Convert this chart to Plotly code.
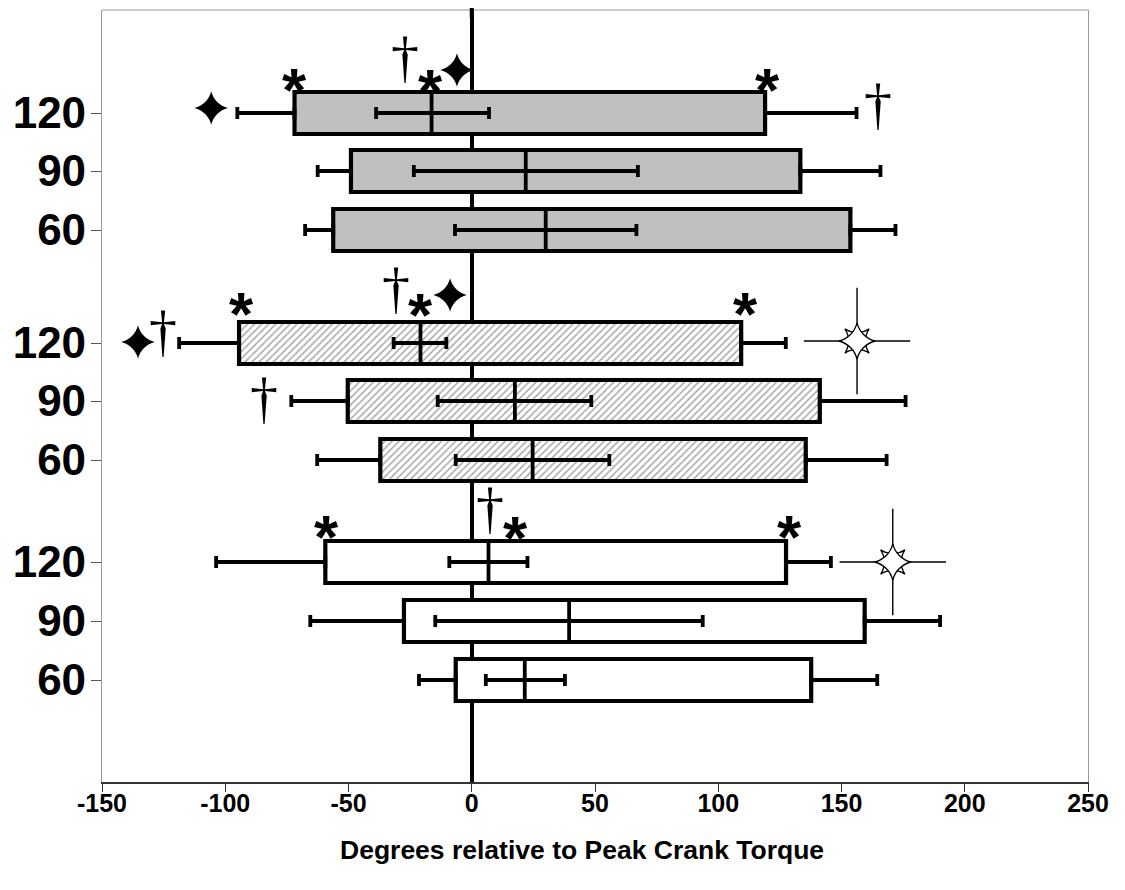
import plotly.graph_objects as go

# ---------------- data (degrees relative to peak crank torque) ----------------
# rows from bottom to top: white group, hatched group, gray group; each 60, 90, 120
ROW_LABELS = ["60", "90", "120", "60", "90", "120", "60", "90", "120"]
GROUP = ["white", "white", "white", "hatch", "hatch", "hatch", "gray", "gray", "gray"]

WHISK_LO = [-21.4, -65.5, -103.7, -62.7, -73.2, -118.7, -67.6, -62.5, -95.1]
BOX_LO = [-6.5, -27.5, -59.4, -37.1, -50.3, -94.4, -56.2, -49.0, -71.9]
MEDIAN = [21.5, 39.5, 6.8, 24.7, 17.5, -20.8, 30.0, 21.9, -16.3]
MED_LO = [5.7, -14.8, -9.1, -6.5, -13.8, -31.7, -6.8, -23.5, -38.8]
MED_HI = [37.8, 93.7, 22.6, 55.8, 48.5, -10.3, 66.8, 67.4, 7.0]
BOX_HI = [137.7, 159.4, 127.5, 135.5, 141.2, 109.3, 153.6, 133.3, 119.0]
WHISK_HI = [164.5, 190.0, 145.7, 168.3, 176.0, 127.4, 171.9, 165.8, 156.1]

X_TICKS = [-150, -100, -50, 0, 50, 100, 150, 200, 250]
X_TITLE = "Degrees relative to Peak Crank Torque"

# significance symbols (x in degrees, y in vertical axis units)
ASTER_X = [-72.0, -16.9, 119.8, -93.6, -20.6, 110.9, -59.1, 17.8, 129.1]
ASTER_Y = [702, 701, 702, 478, 477, 478, 255, 254, 255]
DAGGER_X = [-27.1, 164.8, -125.2, -30.7, -84.1, 7.2]
DAGGER_Y = [721, 674, 447, 490, 380, 270]
STAR_X = [-105.7, -6.0, -135.4, -8.8]
STAR_Y = [674, 712, 440, 487]
SPARKLE_X = [156.3, 170.8]
SPARKLE_Y = [441, 220]

# ---------------- layout constants ----------------
ROW_POS = [102, 161, 220, 322, 381, 439, 552, 611, 669]  # vertical axis units
BOX_H = 42
FILL = {"white": "#FFFFFF", "hatch": "#FFFFFF", "gray": "#C0C0C0"}

fig = go.Figure()

for g in ["white", "hatch", "gray"]:
    idx = [i for i, gg in enumerate(GROUP) if gg == g]
    marker = dict(color=FILL[g], line=dict(color="black", width=4.2))
    if g == "hatch":
        marker["pattern"] = dict(shape="/", fgcolor="#505050", bgcolor="white",
                                 size=5, solidity=0.3, fillmode="overlay")
    fig.add_trace(go.Bar(
        orientation="h",
        y=[ROW_POS[i] for i in idx],
        base=[BOX_LO[i] for i in idx],
        x=[BOX_HI[i] - BOX_LO[i] for i in idx],
        width=BOX_H,
        marker=marker,
        showlegend=False,
        hoverinfo="skip",
    ))

invis = dict(size=1, color="rgba(0,0,0,0)")
# left whiskers
fig.add_trace(go.Scatter(
    x=BOX_LO, y=ROW_POS, mode="markers", marker=invis, showlegend=False,
    error_x=dict(type="data", symmetric=False,
                 array=[0] * len(BOX_LO),
                 arrayminus=[b - w for b, w in zip(BOX_LO, WHISK_LO)],
                 color="black", thickness=3.8, width=6),
))
# right whiskers
fig.add_trace(go.Scatter(
    x=BOX_HI, y=ROW_POS, mode="markers", marker=invis, showlegend=False,
    error_x=dict(type="data", symmetric=False,
                 array=[w - b for b, w in zip(BOX_HI, WHISK_HI)],
                 arrayminus=[0] * len(BOX_HI),
                 color="black", thickness=3.8, width=6),
))
# median line with its error bar
fig.add_trace(go.Scatter(
    x=MEDIAN, y=ROW_POS, mode="markers", marker=invis, showlegend=False,
    error_x=dict(type="data", symmetric=False,
                 array=[h - m for m, h in zip(MEDIAN, MED_HI)],
                 arrayminus=[m - l for m, l in zip(MEDIAN, MED_LO)],
                 color="black", thickness=3.8, width=6),
    error_y=dict(type="constant", value=BOX_H / 2, color="black",
                 thickness=3.8, width=0),
))

# four-pointed black stars
fig.add_trace(go.Scatter(
    x=STAR_X, y=STAR_Y, mode="markers", showlegend=False,
    marker=dict(symbol="star-diamond", size=24, color="black",
                line=dict(width=0)),
))
# sparkles
fig.add_trace(go.Scatter(
    x=SPARKLE_X, y=SPARKLE_Y, mode="markers", showlegend=False,
    marker=dict(symbol="cross-thin", size=76, color="black",
                line=dict(width=1.4, color="black")),
))
fig.add_trace(go.Scatter(
    x=SPARKLE_X, y=SPARKLE_Y, mode="markers", showlegend=False,
    marker=dict(symbol="star-square", size=22, color="white",
                line=dict(width=1.3, color="black")),
))
fig.add_trace(go.Scatter(
    x=SPARKLE_X, y=SPARKLE_Y, mode="markers", showlegend=False,
    marker=dict(symbol="star-diamond", size=26, color="white",
                line=dict(width=1.3, color="black")),
))

annotations = []
for x, y in zip(ASTER_X, ASTER_Y):
    annotations.append(dict(x=x, y=y, xref="x", yref="y", text="<b>*</b>", showarrow=False,
                            font=dict(family="Liberation Sans", size=62, color="black"),
                            yshift=-9, borderpad=0))
for x, y in zip(DAGGER_X, DAGGER_Y):
    annotations.append(dict(x=x, y=y, xref="x", yref="y", text="†", showarrow=False,
                            font=dict(family="Liberation Serif", size=56, color="black"),
                            yshift=4, borderpad=0))
annotations.append(dict(x=0.5, y=-68 / 772, xref="paper", yref="paper",
                        text="<b>" + X_TITLE + "</b>", showarrow=False,
                        xanchor="center", yanchor="middle", xshift=-13,
                        font=dict(family="Liberation Sans", size=26.5, color="black")))

fig.update_layout(
    width=1125, height=890, autosize=False,
    margin=dict(l=94, r=45, t=2, b=116),
    plot_bgcolor="white", paper_bgcolor="white",
    barmode="overlay",
    showlegend=False,
    annotations=annotations,
    shapes=[
        dict(type="line", xref="paper", yref="paper", x0=0, x1=1, y0=1, y1=1,
             line=dict(color="#9a9a9a", width=1.2)),
        dict(type="line", xref="x", yref="paper", x0=0, x1=0, y0=0.99, y1=1.006,
             line=dict(color="black", width=4)),
    ],
    xaxis=dict(
        range=[-150, 250], tickvals=X_TICKS, ticktext=[str(v) for v in X_TICKS],
        showgrid=False, zeroline=True, zerolinecolor="black", zerolinewidth=4,
        showline=True, linecolor="#333333", linewidth=1.5, mirror=False,
        ticks="outside", ticklen=8, tickwidth=1.2, tickcolor="#333333",
        ticklabelstandoff=-10,
        tickfont=dict(family="Liberation Sans", size=25, color="black", weight="bold"),
    ),
    yaxis=dict(
        range=[0, 772], tickvals=ROW_POS, ticktext=ROW_LABELS,
        showgrid=False, zeroline=False,
        showline=True, linecolor="#9a9a9a", linewidth=1.2, mirror=True,
        ticks="outside", ticklen=10, tickwidth=1.2, tickcolor="#555555",
        ticklabelstandoff=-4,
        tickfont=dict(family="Liberation Sans", size=44, color="black", weight="bold"),
    ),
)

fig.write_html("out.html")
